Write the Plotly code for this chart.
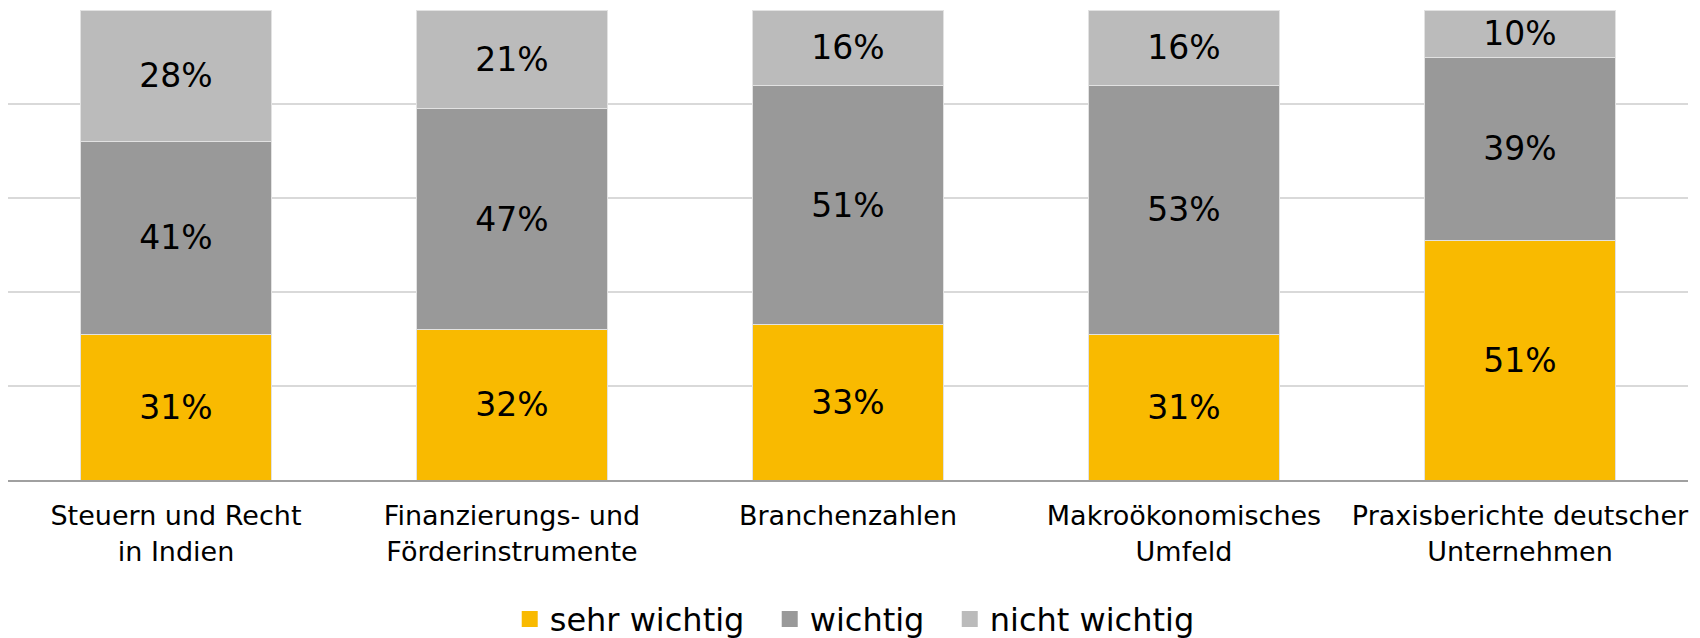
import plotly.graph_objects as go

categories = [
    "Steuern und Recht<br>in Indien",
    "Finanzierungs- und<br>Förderinstrumente",
    "Branchenzahlen",
    "Makroökonomisches<br>Umfeld",
    "Praxisberichte deutscher<br>Unternehmen",
]
sehr_wichtig = [31, 32, 33, 31, 51]
wichtig = [41, 47, 51, 53, 39]
nicht_wichtig = [28, 21, 16, 16, 10]

series = [
    ("sehr wichtig", sehr_wichtig, "#F9BA00"),
    ("wichtig", wichtig, "#999999"),
    ("nicht wichtig", nicht_wichtig, "#BBBBBB"),
]

FONT = "DejaVu Sans"
NB = "\u00a0"
fig = go.Figure()
for name, vals, color in series:
    fig.add_trace(go.Bar(
        name=name,
        x=categories,
        y=vals,
        marker=dict(color=color, line=dict(color="#e2e2e2", width=1)),
        text=[f"{v}%" for v in vals],
        textposition="inside",
        insidetextanchor="middle",
        textangle=0,
        textfont=dict(family=FONT, size=33, color="#000000"),
        hoverinfo="skip",
        showlegend=False,
    ))

# legend entries (square swatches)
for i, (name, vals, color) in enumerate(series):
    label = name + (NB * 2 if i < len(series) - 1 else "")
    fig.add_trace(go.Scatter(
        name=label,
        x=[None],
        y=[None],
        mode="markers",
        marker=dict(symbol="square", size=17, color=color),
        hoverinfo="skip",
        showlegend=True,
    ))

# the page body has an 8px default margin; size the figure so it ends at the window edge
fig.update_layout(
    barmode="stack",
    bargap=0.43,
    width=1692,
    height=630,
    margin=dict(l=0, r=12, t=2, b=158, autoexpand=False),
    paper_bgcolor="white",
    plot_bgcolor="white",
    font=dict(family=FONT, color="#000000"),
    showlegend=True,
    legend=dict(
        orientation="h",
        x=0.504,
        xanchor="center",
        y=-0.296,
        yanchor="middle",
        font=dict(family=FONT, size=32, color="#000000"),
        traceorder="normal",
        itemclick=False,
        itemwidth=30,
    ),
    xaxis=dict(
        showline=True,
        linecolor="#a0a0a0",
        linewidth=2,
        ticks="",
        tickfont=dict(family=FONT, size=27, color="#000000"),
        ticklabelstandoff=11,
        showgrid=False,
        automargin=False,
    ),
    yaxis=dict(
        range=[0, 100],
        dtick=20,
        showticklabels=False,
        showgrid=True,
        gridcolor="#d9d9d9",
        gridwidth=2,
        zeroline=False,
        showline=False,
        automargin=False,
    ),
)

fig.write_html("out.html")
